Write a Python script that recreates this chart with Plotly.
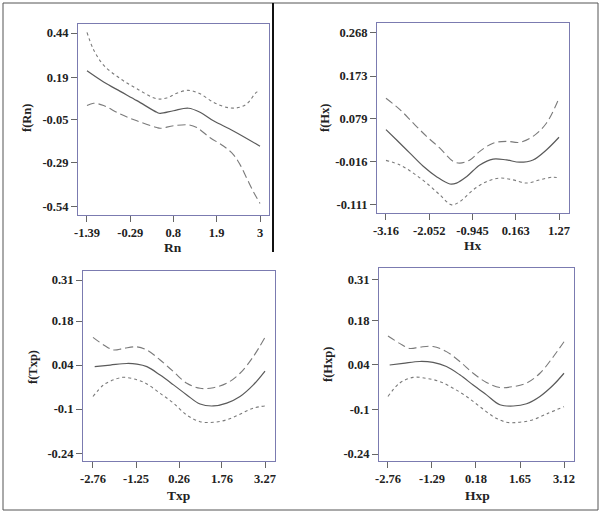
import plotly.graph_objects as go

# ---------------- data ----------------
# Panel 1: Rn
rn_ticks = [-1.39, -0.29, 0.8, 1.9, 3]
rn_ticktext = ["-1.39", "-0.29", "0.8", "1.9", "3"]
frn_ticks = [0.44, 0.19, -0.05, -0.29, -0.54]
frn_ticktext = ["0.44", "0.19", "-0.05", "-0.29", "-0.54"]
rn_fit_x = [-1.39, -0.968, -0.546, -0.124, 0.383, 0.467, 0.805, 1.185, 1.48, 1.818, 2.324, 3.0]
rn_fit_y = [0.227, 0.164, 0.111, 0.059, -0.007, -0.013, 0.002, 0.016, -0.007, -0.055, -0.112, -0.198]
rn_up_x = [-1.39, -1.221, -0.968, -0.546, -0.124, 0.383, 0.636, 0.889, 1.185, 1.48, 1.818, 2.156, 2.409, 2.662, 2.916, 3.0]
rn_up_y = [0.444, 0.345, 0.259, 0.183, 0.126, 0.069, 0.074, 0.101, 0.117, 0.097, 0.050, 0.021, 0.018, 0.040, 0.107, 0.111]
rn_lo_x = [-1.39, -1.221, -0.968, -0.546, -0.124, 0.383, 0.467, 0.805, 1.185, 1.396, 1.734, 2.071, 2.324, 2.493, 2.662, 2.831, 3.0]
rn_lo_y = [0.031, 0.044, 0.031, -0.017, -0.055, -0.093, -0.097, -0.083, -0.078, -0.093, -0.150, -0.197, -0.245, -0.302, -0.378, -0.454, -0.521]

# Panel 2: Hx
hx_ticks = [-3.16, -2.052, -0.945, 0.163, 1.27]
hx_ticktext = ["-3.16", "-2.052", "-0.945", "0.163", "1.27"]
fhx_ticks = [0.268, 0.173, 0.079, -0.016, -0.111]
fhx_ticktext = ["0.268", "0.173", "0.079", "-0.016", "-0.111"]
hx_fit_x = [-3.16, -2.887, -2.547, -2.206, -1.865, -1.524, -1.354, -1.098, -0.758, -0.417, -0.076, 0.265, 0.605, 0.946, 1.27]
hx_fit_y = [0.055, 0.032, 0.003, -0.026, -0.049, -0.065, -0.063, -0.049, -0.023, -0.010, -0.012, -0.017, -0.012, 0.010, 0.038]
hx_up_x = [-3.16, -2.802, -2.461, -2.121, -1.78, -1.439, -1.269, -1.013, -0.758, -0.417, -0.076, 0.265, 0.605, 0.946, 1.27]
hx_up_y = [0.124, 0.099, 0.069, 0.040, 0.014, -0.015, -0.019, -0.012, 0.007, 0.025, 0.029, 0.027, 0.040, 0.069, 0.124]
hx_lo_x = [-3.16, -2.802, -2.461, -2.121, -1.78, -1.482, -1.269, -0.928, -0.587, -0.247, 0.094, 0.435, 0.776, 1.117, 1.27]
hx_lo_y = [-0.013, -0.023, -0.041, -0.063, -0.089, -0.111, -0.104, -0.078, -0.060, -0.052, -0.056, -0.063, -0.056, -0.050, -0.052]

# Panel 3: Txp
txp_ticks = [-2.76, -1.25, 0.26, 1.76, 3.27]
txp_ticktext = ["-2.76", "-1.25", "0.26", "1.76", "3.27"]
ftxp_ticks = [0.31, 0.18, 0.04, -0.1, -0.24]
ftxp_ticktext = ["0.31", "0.18", "0.04", "-0.1", "-0.24"]
txp_fit_x = [-2.70, -2.154, -1.571, -1.221, -0.871, -0.405, 0.062, 0.528, 0.995, 1.461, 1.927, 2.394, 2.86, 3.27]
txp_fit_y = [0.035, 0.040, 0.045, 0.043, 0.035, 0.008, -0.023, -0.055, -0.084, -0.090, -0.081, -0.060, -0.023, 0.021]
txp_up_x = [-2.76, -2.387, -2.037, -1.687, -1.221, -0.871, -0.405, 0.062, 0.528, 0.995, 1.461, 1.927, 2.394, 2.86, 3.27]
txp_up_y = [0.128, 0.104, 0.088, 0.093, 0.098, 0.088, 0.056, 0.019, -0.018, -0.034, -0.032, -0.018, 0.014, 0.067, 0.128]
txp_lo_x = [-2.76, -2.387, -2.037, -1.687, -1.221, -0.871, -0.405, 0.062, 0.528, 0.995, 1.461, 1.927, 2.394, 2.86, 3.27]
txp_lo_y = [-0.060, -0.023, -0.007, 0.001, -0.007, -0.020, -0.050, -0.081, -0.119, -0.140, -0.142, -0.134, -0.116, -0.097, -0.090]

# Panel 4: Hxp
hxp_ticks = [-2.76, -1.29, 0.18, 1.65, 3.12]
hxp_ticktext = ["-2.76", "-1.29", "0.18", "1.65", "3.12"]
fhxp_ticks = [0.31, 0.18, 0.04, -0.1, -0.24]
fhxp_ticktext = ["0.31", "0.18", "0.04", "-0.1", "-0.24"]
hxp_fit_x = [-2.704, -2.258, -1.700, -1.254, -0.807, -0.361, 0.085, 0.531, 0.978, 1.424, 1.87, 2.316, 2.763, 3.12]
hxp_fit_y = [0.040, 0.045, 0.051, 0.048, 0.035, 0.009, -0.023, -0.054, -0.085, -0.089, -0.082, -0.059, -0.023, 0.014]
hxp_up_x = [-2.76, -2.37, -2.035, -1.70, -1.254, -0.807, -0.361, 0.085, 0.531, 0.978, 1.424, 1.87, 2.316, 2.763, 3.12]
hxp_up_y = [0.131, 0.108, 0.092, 0.096, 0.098, 0.082, 0.051, 0.014, -0.015, -0.031, -0.028, -0.017, 0.014, 0.066, 0.113]
hxp_lo_x = [-2.76, -2.37, -1.923, -1.477, -1.031, -0.584, -0.138, 0.308, 0.754, 1.2, 1.647, 2.093, 2.54, 3.12]
hxp_lo_y = [-0.059, -0.017, 0.001, -0.002, -0.012, -0.033, -0.059, -0.091, -0.122, -0.140, -0.140, -0.132, -0.114, -0.091]

# axis titles
x_titles = ["Rn", "Hx", "Txp", "Hxp"]
y_titles = ["f(Rn)", "f(Hx)", "f(Txp)", "f(Hxp)"]

# ---------------- figure ----------------
W, H = 600, 518
FONT = "Liberation Serif"
FIT_COLOR = "#5a5a5a"
CI_COLOR = "#7a7a7a"
FRAME = "#7b7bb0"
SHORT = "3px,3px"
LONG = "8px,4px"

panels = [
    dict(xt=rn_ticks, xtt=rn_ticktext, yt=frn_ticks, ytt=frn_ticktext,
         xr=[-1.618, 3.228], yr=[-0.586, 0.491], px=[78, 269], py=[24, 215],
         xt_pos=(173, 247), yt_pos=(27, 118),
         lines=[(rn_fit_x, rn_fit_y, "solid"), (rn_up_x, rn_up_y, SHORT), (rn_lo_x, rn_lo_y, LONG)]),
    dict(xt=hx_ticks, xtt=hx_ticktext, yt=fhx_ticks, ytt=fhx_ticktext,
         xr=[-3.39, 1.526], yr=[-0.129, 0.290], px=[377, 569], py=[23, 213],
         xt_pos=(473, 246), yt_pos=(325, 118),
         lines=[(hx_fit_x, hx_fit_y, "solid"), (hx_up_x, hx_up_y, LONG), (hx_lo_x, hx_lo_y, SHORT)]),
    dict(xt=txp_ticks, xtt=txp_ticktext, yt=ftxp_ticks, ytt=ftxp_ticktext,
         xr=[-3.11, 3.62], yr=[-0.265, 0.339], px=[83, 275], py=[271, 461],
         xt_pos=(178, 495), yt_pos=(33, 367),
         lines=[(txp_fit_x, txp_fit_y, "solid"), (txp_up_x, txp_up_y, LONG), (txp_lo_x, txp_lo_y, SHORT)]),
    dict(xt=hxp_ticks, xtt=hxp_ticktext, yt=fhxp_ticks, ytt=fhxp_ticktext,
         xr=[-3.06, 3.454], yr=[-0.262, 0.345], px=[379, 574], py=[268, 461],
         xt_pos=(477, 495), yt_pos=(328, 365),
         lines=[(hxp_fit_x, hxp_fit_y, "solid"), (hxp_up_x, hxp_up_y, LONG), (hxp_lo_x, hxp_lo_y, SHORT)]),
]

fig = go.Figure()
layout = dict(
    width=W, height=H,
    margin=dict(l=0, r=0, t=0, b=0),
    paper_bgcolor="white", plot_bgcolor="white",
    showlegend=False,
    font=dict(family=FONT, size=12, color="#222222"),
)
annotations = []

for i, p in enumerate(panels, start=1):
    xa = "x" if i == 1 else f"x{i}"
    ya = "y" if i == 1 else f"y{i}"
    for (lx, ly, dash) in p["lines"]:
        fig.add_trace(go.Scatter(
            x=lx, y=ly, xaxis=xa, yaxis=ya, mode="lines",
            line=dict(color=FIT_COLOR if dash == "solid" else CI_COLOR,
                      width=1.2 if dash == "solid" else 1.1,
                      dash=dash, shape="spline", smoothing=1.0),
            hoverinfo="skip",
        ))
    xkey = "xaxis" if i == 1 else f"xaxis{i}"
    ykey = "yaxis" if i == 1 else f"yaxis{i}"
    layout[xkey] = dict(
        domain=[p["px"][0] / W, p["px"][1] / W],
        range=p["xr"], anchor=ya,
        tickmode="array", tickvals=p["xt"], ticktext=["<b>%s</b>" % t for t in p["xtt"]],
        ticks="outside", ticklen=6, tickcolor="#666666", tickwidth=1,
        showline=True, linecolor=FRAME, linewidth=1, mirror=True,
        showgrid=False, zeroline=False,
        tickfont=dict(family=FONT, size=12.5, color="#222222"),
        automargin=False,
    )
    layout[ykey] = dict(
        domain=[1 - p["py"][1] / H, 1 - p["py"][0] / H],
        range=p["yr"], anchor=xa,
        tickmode="array", tickvals=p["yt"], ticktext=["<b>%s</b>" % t for t in p["ytt"]],
        ticks="outside", ticklen=6, tickcolor="#666666", tickwidth=1,
        showline=True, linecolor=FRAME, linewidth=1, mirror=True,
        showgrid=False, zeroline=False,
        tickfont=dict(family=FONT, size=12.5, color="#222222"),
        automargin=False,
    )
    annotations.append(dict(
        text="<b>%s</b>" % x_titles[i - 1], xref="paper", yref="paper",
        x=p["xt_pos"][0] / W, y=1 - p["xt_pos"][1] / H,
        xanchor="center", yanchor="middle", showarrow=False,
        font=dict(family=FONT, size=13.5, color="#222222")))
    annotations.append(dict(
        text="<b>%s</b>" % y_titles[i - 1], xref="paper", yref="paper",
        x=p["yt_pos"][0] / W, y=1 - p["yt_pos"][1] / H, textangle=-90,
        xanchor="center", yanchor="middle", showarrow=False,
        font=dict(family=FONT, size=12.5, color="#222222")))

layout["annotations"] = annotations
layout["shapes"] = [
    dict(type="rect", xref="paper", yref="paper",
         x0=3 / W, x1=598 / W, y0=1 - 510 / H, y1=1 - 3 / H,
         line=dict(color="#555555", width=1)),
    dict(type="line", xref="paper", yref="paper",
         x0=273 / W, x1=273 / W, y0=1 - 252 / H, y1=1 - 3 / H,
         line=dict(color="#111111", width=2)),
]

fig.update_layout(**layout)
fig.write_html("out.html", config={"displayModeBar": False},
               post_script="document.body.style.margin='0';document.body.style.padding='0';")
